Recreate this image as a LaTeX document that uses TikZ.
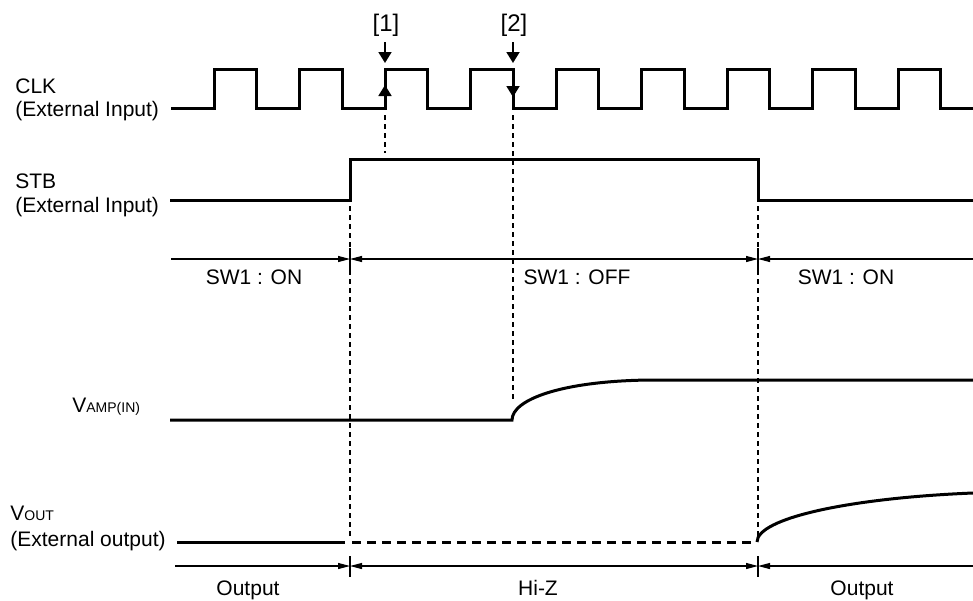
\documentclass[tikz,border=0pt]{standalone}
\usepackage{fontspec}
\setmainfont{Liberation Sans}
\usetikzlibrary{arrows.meta}
\begin{document}
\begin{tikzpicture}[x=0.5pt, y=-0.5pt,
		>={Triangle[length=6pt, width=3pt]},
		sig/.style={line width=1.5pt, line join=miter},
		guide/.style={line width=0.65pt, dash pattern=on 2.5pt off 2pt},
		dim/.style={line width=0.55pt},
		pointer/.style={line width=0.9pt, -{Triangle[length=5.5pt, width=6.5pt]}},
		lbl/.style={font=\fontsize{10.5}{12.6}\selectfont, inner sep=0pt, anchor=base},
		edgelbl/.style={font=\fontsize{12}{14}\selectfont, inner sep=0pt, anchor=base}]
		\useasboundingbox (0, 0) rectangle (973, 600);

		% signal names
		\node[lbl, anchor=base west] (clk) at (15, 93) {CLK};
		\node[lbl, anchor=base west] (clkext) at (15, 116) {(External Input)};
		\node[lbl, anchor=base west] (stb) at (15, 188) {STB};
		\node[lbl, anchor=base west] (stbext) at (15, 212) {(External Input)};
		\node[lbl, anchor=base west] (vamp) at (72, 412) {V{\fontsize{7}{8}\selectfont AMP(IN)}};
		\node[lbl, anchor=base west] (vout) at (10, 520) {V{\fontsize{7}{8}\selectfont OUT}};
		\node[lbl, anchor=base west] (voutext) at (10, 546) {(External output)};

		% CLK
		\draw[sig] (171, 108) \foreach \k in {0,...,8} { -- ({214+85.5*\k}, 108) -- ++(0, -39) -- ++(42.75, 0) -- ++(0, 39) } -- (973, 108);

		% STB
		\draw[sig] (170, 200) -- (350, 200) -- (350, 159) -- (758, 159) -- (758, 200) -- (973, 200);

		% edges [1] and [2]
		\node[edgelbl] (e1) at (386, 31) {[1]};
		\node[edgelbl] (e2) at (514, 31) {[2]};
		\draw[pointer] (385, 42) -- (385, 63);
		\draw[pointer] (513, 42) -- (513, 63);
		\draw[pointer] (385, 100) -- (385, 85);
		\draw[pointer] (513, 80) -- (513, 97);

		% guides
		\draw[guide] (385, 115) -- (385, 153);
		\draw[guide] (513, 115) -- (513, 402);
		\foreach \x in {350, 758} {
			\draw[guide] (\x, 206) -- (\x, 248);
			\draw[guide] (\x, 270) -- (\x, 537);
			\draw[dim] (\x, 248) -- (\x, 270);
			\draw[dim] (\x, 556) -- (\x, 577);
		}

		% SW1 state
		\draw[dim, ->] (171, 259) -- (350, 259);
		\draw[dim, <->] (350, 259) -- (758, 259);
		\draw[dim, <-] (758, 259) -- (973, 259);
		\node[lbl] (swon) at (254, 284) {SW1 : ON};
		\node[lbl] (swoff) at (577, 284) {SW1 : OFF};
		\node[lbl] (swon2) at (846, 284) {SW1 : ON};

		% VAMP(IN)
		\draw[sig] (170, 420) -- (512, 420) .. controls (512, 400) and (560, 381) .. (650, 380) -- (973, 380);

		% VOUT
		\draw[sig] (177, 542) -- (345, 542);
		\draw[sig, dash pattern=on 4.5pt off 3pt] (352, 542) -- (757, 542);
		\draw[sig] (757, 542) .. controls (757, 518) and (850, 498) .. (973, 493);

		% output state
		\draw[dim, ->] (175, 566) -- (350, 566);
		\draw[dim, <->] (350, 566) -- (758, 566);
		\draw[dim, <-] (758, 566) -- (973, 566);
		\node[lbl] (outl) at (248, 595) {Output};
		\node[lbl] (hiz) at (538, 595) {Hi-Z};
		\node[lbl] (outr) at (862, 595) {Output};
	\end{tikzpicture}
\end{document}
